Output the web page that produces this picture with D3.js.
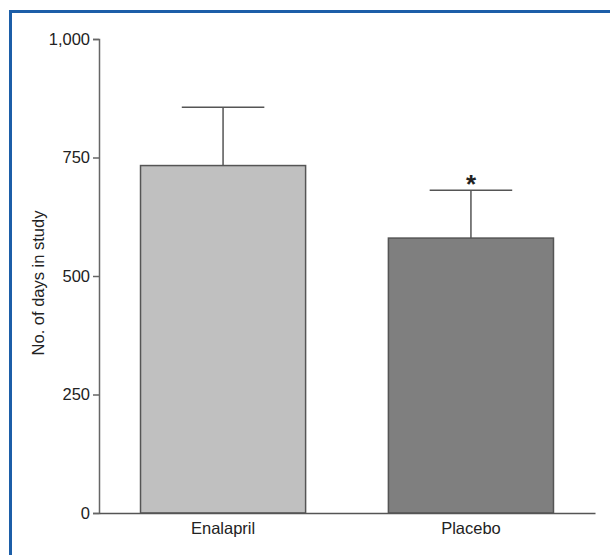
<!DOCTYPE html>
<html>
<head>
<meta charset="utf-8" />
<script src="https://cdn.jsdelivr.net/npm/d3@7"></script>
<style>
  body { margin: 0; background: #fff; }
  text { font-family: "Liberation Sans", Arial, sans-serif; fill: #222; }
</style>
</head>
<body>
<script>
var groups = ["Enalapril", "Placebo"];
var means = [733, 580];
var errors = [123, 101];
var marks = ["", "*"];
var yTicks = [0, 250, 500, 750, 1000];

var svgWidth = 610, svgHeight = 555;
var margin = {top: 39, right: 15, bottom: 42, left: 99};

var svg = d3.select("body").append("svg")
    .attr("width", svgWidth)
    .attr("height", svgHeight);

// blue frame (top and left edges)
svg.append("line").attr("x1", 10.5).attr("x2", 610).attr("y1", 11.5).attr("y2", 11.5)
    .attr("stroke", "#1c5ea8").attr("stroke-width", 3);
svg.append("line").attr("x1", 10.5).attr("x2", 10.5).attr("y1", 10).attr("y2", 555)
    .attr("stroke", "#1c5ea8").attr("stroke-width", 3);

var x = d3.scaleBand()
    .domain(groups)
    .range([margin.left, svgWidth - margin.right])
    .paddingInner(0.334)
    .paddingOuter(0.1675);

var y = d3.scaleLinear()
    .domain([0, 1000])
    .range([svgHeight - margin.bottom, margin.top]);

var fills = ["#c0c0c0", "#7f7f7f"];

var bars = svg.selectAll(".bar").data(groups).enter().append("g");

// error bars
bars.append("line")
    .attr("x1", function(d) { return x(d) + x.bandwidth() / 2; })
    .attr("x2", function(d) { return x(d) + x.bandwidth() / 2; })
    .attr("y1", function(d, i) { return y(means[i]); })
    .attr("y2", function(d, i) { return y(means[i] + errors[i]); })
    .attr("stroke", "#555").attr("stroke-width", 1.5);
bars.append("line")
    .attr("x1", function(d) { return x(d) + x.bandwidth() / 4; })
    .attr("x2", function(d) { return x(d) + x.bandwidth() * 3 / 4; })
    .attr("y1", function(d, i) { return y(means[i] + errors[i]); })
    .attr("y2", function(d, i) { return y(means[i] + errors[i]); })
    .attr("stroke", "#555").attr("stroke-width", 1.5);

bars.append("rect")
    .attr("x", function(d) { return x(d); })
    .attr("y", function(d, i) { return y(means[i]); })
    .attr("width", x.bandwidth())
    .attr("height", function(d, i) { return y(0) - y(means[i]); })
    .attr("fill", function(d, i) { return fills[i]; })
    .attr("stroke", "#555").attr("stroke-width", 1.5);

bars.append("text")
    .attr("x", function(d) { return x(d) + x.bandwidth() / 2; })
    .attr("y", function(d, i) { return y(means[i] + errors[i]) + 3; })
    .attr("text-anchor", "middle")
    .style("font-size", "26px")
    .style("font-weight", "bold")
    .text(function(d, i) { return marks[i]; });

// y axis
var yAxis = svg.append("g")
    .attr("transform", "translate(" + margin.left + ",0)")
    .call(d3.axisLeft(y).tickValues(yTicks).tickFormat(d3.format(",")).tickSize(6).tickPadding(3));
yAxis.select(".domain").attr("stroke", "#666").attr("stroke-width", 1.5);
yAxis.selectAll(".tick line").attr("stroke", "#666").attr("stroke-width", 1.5);
yAxis.selectAll(".tick text").style("font-size", "16.5px").attr("fill", "#222");

// x axis
var xAxis = svg.append("g")
    .attr("transform", "translate(0," + y(0) + ")")
    .call(d3.axisBottom(x).tickSize(0).tickPadding(9).tickSizeOuter(0));
xAxis.select(".domain").attr("stroke", "#555").attr("stroke-width", 1.5);
xAxis.selectAll(".tick text").style("font-size", "16.5px").attr("fill", "#222");

svg.append("text")
    .attr("transform", "translate(44," + (margin.top + (y(0) - margin.top) / 2 + 7) + ") rotate(-90)")
    .attr("text-anchor", "middle")
    .style("font-size", "16.5px")
    .text("No. of days in study");
</script>
</body>
</html>
